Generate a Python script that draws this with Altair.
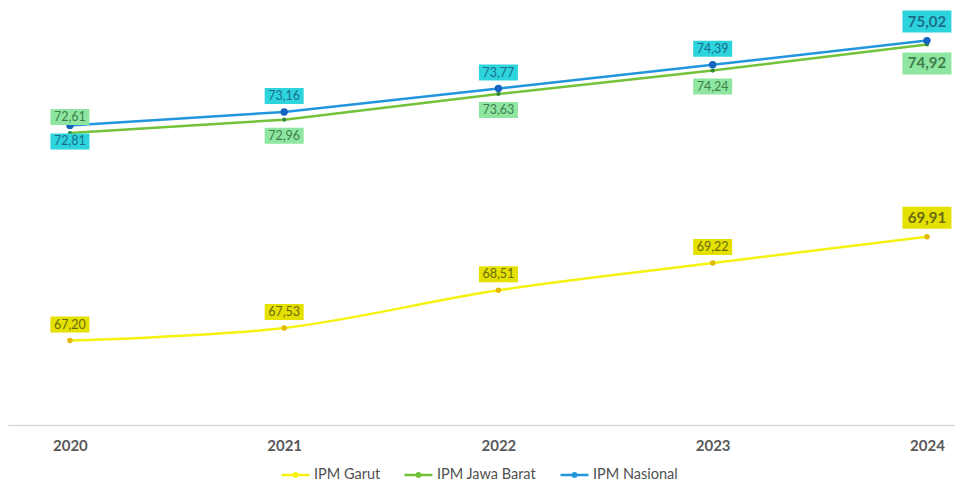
import altair as alt
import pandas as pd

years = [2020, 2021, 2022, 2023, 2024]
series_names = ["IPM Garut", "IPM Jawa Barat", "IPM Nasional"]
ipm_garut = [67.20, 67.53, 68.51, 69.22, 69.91]
ipm_jabar = [72.61, 72.96, 73.63, 74.24, 74.92]
ipm_nasional = [72.81, 73.16, 73.77, 74.39, 75.02]

rows = []
for name, vals in zip(series_names, [ipm_garut, ipm_jabar, ipm_nasional]):
    for yr, v in zip(years, vals):
        rows.append({"year": yr, "series": name, "value": v,
                     "label": f"{v:.2f}".replace(".", ",")})
df = pd.DataFrame(rows)

line_colors = ["#f5f210", "#72c23a", "#2196dc"]
point_colors = ["#e2b800", "#2e8b3a", "#1565c0"]
point_sizes = [30, 18, 55]
interpolations = ["catmull-rom", "linear", "linear"]
box_colors = ["#e4e000", "#8ee6a0", "#2dd4dc"]
text_colors = ["#6b6b10", "#3f7f4c", "#1b6e8a"]

FONT = "Lato"

X = alt.X("year:Q",
          scale=alt.Scale(domain=[2019.711, 2024.131], nice=False, zero=False),
          axis=alt.Axis(values=years, format="d", title=None, ticks=False,
                        grid=False, domainColor="#d9d9d9", domainWidth=1.5,
                        labelFont=FONT, labelFontSize=15, labelFontWeight="bold",
                        labelColor="#595959", labelPadding=13))
Y = alt.Y("value:Q",
          scale=alt.Scale(domain=[65, 75.87], nice=False, zero=False),
          axis=None)

legend_shape = ("M-1,0H1M0.12,0A0.12,0.12 0 1 1 -0.12,0"
                "A0.12,0.12 0 1 1 0.12,0")

COLOR = alt.Color("series:N",
                  scale=alt.Scale(domain=series_names, range=line_colors),
                  legend=alt.Legend(orient="none", legendX=272, legendY=451,
                                    direction="horizontal", title=None,
                                    symbolType=legend_shape, symbolSize=784,
                                    symbolStrokeWidth=2.5,
                                    labelFont=FONT, labelFontSize=14.5,
                                    labelColor="#505050", columnPadding=18,
                                    labelOffset=3, padding=0))

base = alt.Chart(df)

layers = []
for i, name in enumerate(series_names):
    sb = base.transform_filter(alt.datum.series == name)
    layers.append(
        sb.mark_line(interpolate=interpolations[i], strokeWidth=2.5)
        .encode(x=X, y=Y, color=COLOR)
    )

for i, name in enumerate(series_names):
    sb = base.transform_filter(alt.datum.series == name)
    layers.append(
        sb.mark_point(filled=True, opacity=1, size=point_sizes[i],
                      color=point_colors[i]).encode(x=X, y=Y)
    )

above_expr = ("datum.series == 'IPM Garut' || "
              "(datum.series == 'IPM Nasional' && datum.year != 2020) || "
              "(datum.series == 'IPM Jawa Barat' && datum.year == 2020)")

cases = [
    # (above?, big?, yOffset, box_w, box_h, font size, weight)
    (True, False, -16, 39, 16, 12.5, "normal"),
    (False, False, 16, 39, 16, 12.5, "normal"),
    (True, True, -19, 49, 22, 15, "bold"),
    (False, True, 19, 49, 22, 15, "bold"),
]

for i, name in enumerate(series_names):
    for above, big, dy, bw, bh, fs, fw in cases:
        cond = f"({above_expr}) == {'true' if above else 'false'}"
        cond_big = "datum.year == 2024" if big else "datum.year != 2024"
        sub = (base.transform_filter(alt.datum.series == name)
               .transform_filter(cond).transform_filter(cond_big))
        half = bh / bw
        shape = f"M-1,-{half:.4f}H1V{half:.4f}H-1Z"
        layers.append(
            sub.mark_point(filled=True, opacity=1, shape=shape, size=bw * bw,
                           color=box_colors[i], strokeWidth=0, yOffset=dy)
            .encode(x=X, y=Y)
        )
        layers.append(
            sub.mark_text(font=FONT, fontSize=fs, fontWeight=fw,
                          color=text_colors[i], yOffset=dy,
                          align="center", baseline="middle")
            .encode(x=X, y=Y, text="label:N")
        )

chart = alt.layer(*layers).properties(
    width=947, height=417,
    autosize=alt.AutoSizeParams(type="none"),
    padding={"left": 0, "top": 0, "right": 0, "bottom": 60},
).configure_view(stroke=None)

chart.save("out.html", embed_options={"renderer": "svg", "actions": False})
